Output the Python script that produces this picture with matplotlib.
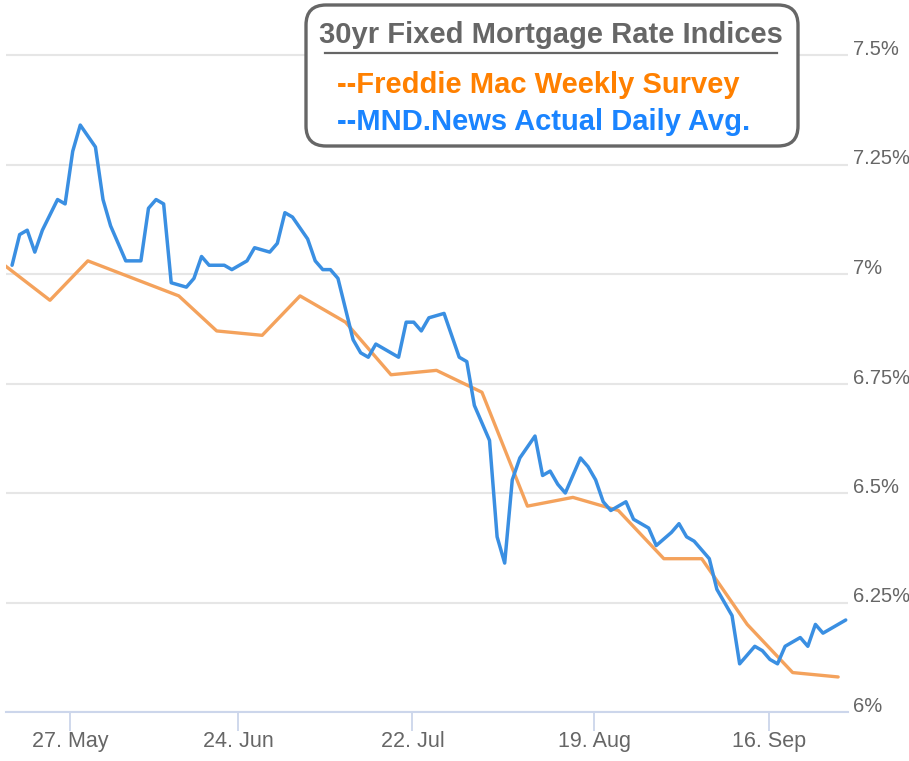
import numpy as np
import pandas as pd
import matplotlib
matplotlib.use("Agg")
import matplotlib.pyplot as plt
from matplotlib.patches import FancyBboxPatch
from matplotlib.lines import Line2D
from matplotlib.transforms import IdentityTransform

FONT = ["Liberation Sans", "DejaVu Sans"]

# ---------------- data ----------------
holidays = ["2024-05-27", "2024-06-19", "2024-07-04", "2024-09-02"]
mnd_dates = [d for d in pd.bdate_range("2024-05-16", "2024-09-26")
             if d.strftime("%Y-%m-%d") not in holidays]
mnd_rates = [
    7.02, 7.09, 7.10, 7.05, 7.10,          # May 16-22
    7.17, 7.16, 7.28, 7.34,                # May 23-29
    7.29, 7.17, 7.11, 7.07, 7.03,          # May 30 - Jun 5
    7.03, 7.15, 7.17, 7.16, 6.98,          # Jun 6-12
    6.97, 6.99, 7.04, 7.02,                # Jun 13-18
    7.02, 7.01, 7.02, 7.03, 7.06,          # Jun 20-26
    7.05, 7.07, 7.14, 7.13,                # Jun 27 - Jul 2
    7.08, 7.03, 7.01, 7.01, 6.99,          # Jul 3-10
    6.85, 6.82, 6.81, 6.84, 6.83,          # Jul 11-17
    6.81, 6.89, 6.89, 6.87, 6.90,          # Jul 18-24
    6.91, 6.86, 6.81, 6.80, 6.70,          # Jul 25-31
    6.62, 6.40, 6.34, 6.53, 6.58,          # Aug 1-7
    6.63, 6.54, 6.55, 6.52, 6.50,          # Aug 8-14
    6.58, 6.56, 6.53, 6.48, 6.46,          # Aug 15-21
    6.48, 6.44, 6.43, 6.42, 6.38,          # Aug 22-28
    6.41, 6.43, 6.40, 6.39,                # Aug 29 - Sep 4
    6.35, 6.28, 6.25, 6.22, 6.11,          # Sep 5-11
    6.15, 6.14, 6.12, 6.11, 6.15,          # Sep 12-18
    6.17, 6.15, 6.20, 6.18, 6.19,          # Sep 19-25
    6.21,                                  # Sep 26
]
fm_dates = pd.to_datetime([
    "2024-05-16", "2024-05-23", "2024-05-30", "2024-06-06", "2024-06-13",
    "2024-06-20", "2024-06-27", "2024-07-03", "2024-07-11", "2024-07-18",
    "2024-07-25", "2024-08-01", "2024-08-08", "2024-08-15", "2024-08-22",
    "2024-08-29", "2024-09-05", "2024-09-12", "2024-09-19", "2024-09-26",
])
fm_rates = [7.02, 6.94, 7.03, 6.99, 6.95, 6.87, 6.86, 6.95, 6.89, 6.77,
            6.78, 6.73, 6.47, 6.49, 6.46, 6.35, 6.35, 6.20, 6.09, 6.08]

tick_dates = pd.to_datetime(["2024-05-27", "2024-06-24", "2024-07-22",
                             "2024-08-19", "2024-09-16"])
tick_labels = ["27. May", "24. Jun", "22. Jul", "19. Aug", "16. Sep"]
y_ticks = [6.0, 6.25, 6.5, 6.75, 7.0, 7.25, 7.5]

title = "30yr Fixed Mortgage Rate Indices"
fm_label = "--Freddie Mac Weekly Survey"
mnd_label = "--MND.News Actual Daily Avg."

# ---------------- ordinal (business-day) axis ----------------
mnd_ts = (pd.DatetimeIndex(mnd_dates) + pd.Timedelta(hours=12)).asi8.astype(float)
fm_ts = pd.DatetimeIndex(fm_dates).asi8.astype(float)
all_ts = np.sort(np.concatenate([mnd_ts, fm_ts]))
slots = np.arange(len(all_ts), dtype=float)
mnd_x = np.interp(mnd_ts, all_ts, slots)
fm_x = np.interp(fm_ts, all_ts, slots)
tick_x = np.interp(pd.DatetimeIndex(tick_dates).asi8.astype(float), all_ts, slots)

# ---------------- figure ----------------
W, H = 909, 761
fig = plt.figure(figsize=(W / 100, H / 100), dpi=100)
fig.patch.set_facecolor("white")
ax = fig.add_axes([6 / W, 49 / H, 842 / W, 712 / H])

ax.plot(fm_x, fm_rates, color="#f4a25c", lw=2.4, solid_joinstyle="round",
        solid_capstyle="round", zorder=3)
ax.plot(mnd_x, mnd_rates, color="#3a8fe2", lw=2.5, solid_joinstyle="round",
        solid_capstyle="round", zorder=4)

ax.set_xlim(0.2, 111.3)
ax.set_ylim(6.0, 6.0 + 712 / 438)

ax.set_yticks(y_ticks)
ax.set_yticklabels([f"{v:g}%" for v in y_ticks])
ax.grid(axis="y", color="#e6e6e6", lw=1.5, zorder=0)
ax.tick_params(axis="y", left=False, right=False, labelleft=False,
               labelright=True, pad=0, labelsize=14.5, labelcolor="#666666")
for lab in ax.get_yticklabels():
    lab.set_va("baseline")
    lab.set_family(FONT)

ax.set_xticks(tick_x)
ax.set_xticklabels(tick_labels)
ax.tick_params(axis="x", length=14, width=1.3, color="#ccd6eb",
               labelsize=15.5, labelcolor="#666666", pad=0)
for lab in ax.get_xticklabels():
    lab.set_family(FONT)

for s in ["top", "left", "right"]:
    ax.spines[s].set_visible(False)
ax.spines["bottom"].set_color("#ccd6eb")
ax.spines["bottom"].set_linewidth(1.5)

# ---------------- title / legend box (pixel coordinates) ----------------
px = IdentityTransform()
box = FancyBboxPatch((306, H - 146), 492, 141,
                     boxstyle="round,pad=0,rounding_size=20",
                     transform=px, facecolor="white", edgecolor="#666666",
                     lw=2.4, zorder=10)
fig.add_artist(box)
fig.text(551, H - 43, title, transform=px, ha="center", va="baseline",
         fontsize=21, fontweight="bold", color="#666666", family=FONT, zorder=11)
fig.add_artist(Line2D([325, 777], [H - 53, H - 53], transform=px,
                      color="#666666", lw=1.6, zorder=11))
fig.text(337, H - 93, fm_label, transform=px, ha="left", va="baseline",
         fontsize=21, fontweight="bold", color="#ff8000", family=FONT, zorder=11)
fig.text(337, H - 130, mnd_label, transform=px, ha="left", va="baseline",
         fontsize=21, fontweight="bold", color="#1a84ff", family=FONT, zorder=11)

fig.savefig("out.png", dpi=100, facecolor="white")
